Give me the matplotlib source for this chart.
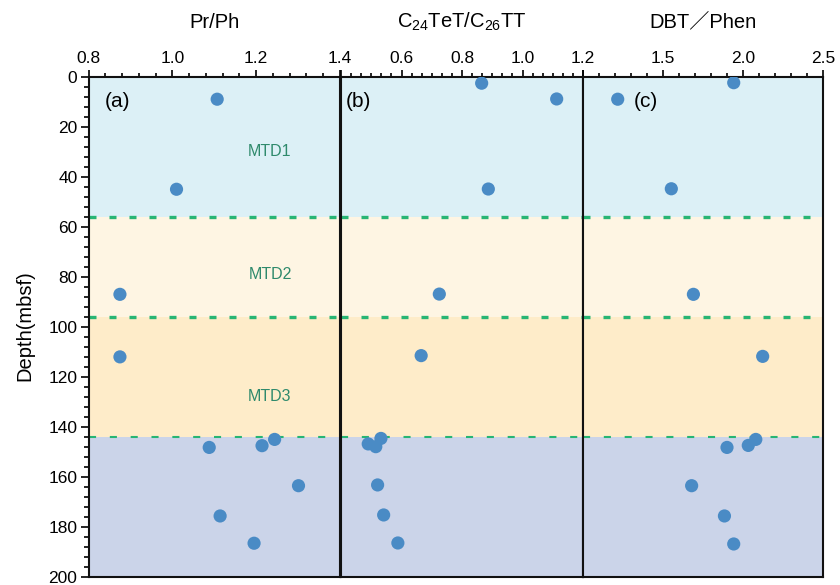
import matplotlib
matplotlib.use("Agg")
import matplotlib.pyplot as plt
from matplotlib.ticker import MultipleLocator

plt.rcParams['font.family'] = ['Liberation Sans', 'DejaVu Sans', 'Noto Sans CJK SC']
plt.rcParams['mathtext.default'] = 'regular'

# ---------------- data ----------------
depth_a = [9, 45, 87, 112, 145, 147.5, 148.2, 163.5, 175.6, 186.5]
pr_ph = [1.107, 1.010, 0.875, 0.875, 1.244, 1.214, 1.088, 1.301, 1.114, 1.195]

depth_b = [2.6, 8.9, 44.9, 86.9, 111.5, 144.6, 146.8, 147.9, 163.2, 175.2, 186.4]
tet_tt = [0.865, 1.113, 0.887, 0.725, 0.665, 0.532, 0.490, 0.515, 0.521, 0.541, 0.588]

depth_c = [2.4, 9.0, 44.8, 87.0, 111.8, 145.0, 147.4, 148.2, 163.5, 175.6, 186.8]
dbt_phen = [1.942, 1.217, 1.552, 1.690, 2.123, 2.080, 2.033, 1.900, 1.679, 1.884, 1.942]

boundaries = [56, 96, 144]
zone_names = ["MTD1", "MTD2", "MTD3"]
zone_label_depths = [30, 79, 128]

titles = ["Pr/Ph", "C$_{24}$TeT/C$_{26}$TT", "DBT／Phen"]
xlims = [(0.8, 1.4), (0.4, 1.2), (1.0, 2.5)]
xticks = [[0.8, 1.0, 1.2, 1.4], [0.4, 0.6, 0.8, 1.0, 1.2], [1.0, 1.5, 2.0, 2.5]]
xticklabels = [["0.8", "1.0", "1.2", "1.4"], ["", "0.6", "0.8", "1.0", "1.2"],
               ["", "1.5", "2.0", "2.5"]]
xminor = [0.04, 0.2 / 6, 0.1]
panel_tags = ["(a)", "(b)", "(c)"]
panel_tag_x = [0.066, 0.02, 0.21]

# ---------------- style ----------------
W, H = 840, 585
fig = plt.figure(figsize=(W / 100, H / 100), dpi=100)

bottom = 1 - 577 / H
height = (577 - 76.7) / H
lefts_px = [88.5, 341, 583]
widths_px = [251.5, 242, 240]

band_colors = ['#dcf0f6', '#fef5e3', '#feecc9', '#cbd4e9']
band_edges = [0] + boundaries + [200]
dash_color = '#27b574'
pt_color = '#4a8bc5'
mtd_color = '#2f8a6c'

series = [(pr_ph, depth_a), (tet_tt, depth_b), (dbt_phen, depth_c)]

axes = []
for i in range(3):
    ax = fig.add_axes([lefts_px[i] / W, bottom, widths_px[i] / W, height])
    axes.append(ax)
    ax.set_xlim(*xlims[i])
    ax.set_ylim(200, 0)
    for k in range(4):
        ax.axhspan(band_edges[k], band_edges[k + 1], color=band_colors[k], lw=0, zorder=0)
    # dashed zone boundaries
    ax.axhline(boundaries[0], color=dash_color, lw=2.4, ls=(0, (2.1, 3.9)), zorder=1)
    ax.axhline(boundaries[1], color=dash_color, lw=2.4, ls=(0, (2.1, 3.9)), zorder=1)
    ax.axhline(boundaries[2], color=dash_color, lw=1.5, ls=(0, (3.4, 6.6)), zorder=1)

    x, d = series[i]
    ax.scatter(x, d, s=90, color=pt_color, edgecolors='none', zorder=3)

    ax.xaxis.tick_top()
    ax.set_xticks(xticks[i])
    ax.set_xticklabels(xticklabels[i])
    ax.xaxis.set_minor_locator(MultipleLocator(xminor[i]))
    ax.tick_params(axis='x', which='both', direction='out', top=True, bottom=False,
                   labeltop=True, labelbottom=False, labelsize=12.5, pad=3, width=1.2)
    ax.tick_params(axis='x', which='major', length=5)
    ax.tick_params(axis='x', which='minor', length=3)

    for sp in ax.spines.values():
        sp.set_linewidth(1.5)
        sp.set_color('#111111')

    ax.text(panel_tag_x[i], 10, panel_tags[i], transform=ax.get_yaxis_transform(),
            fontsize=15, ha='left', va='center', zorder=4)

    fig.text((lefts_px[i] + widths_px[i] / 2) / W, 1 - 22 / H, titles[i],
             fontsize=14.5, ha='center', va='center')

    if i == 0:
        ax.set_yticks(range(0, 201, 20))
        ax.yaxis.set_minor_locator(MultipleLocator(4))
        ax.tick_params(axis='y', which='both', direction='out', left=True,
                       labelsize=12.5, pad=2, width=1.2)
        ax.tick_params(axis='y', which='major', length=6)
        ax.tick_params(axis='y', which='minor', length=3.5)
    else:
        ax.tick_params(axis='y', which='both', left=False, labelleft=False)

ax0 = axes[0]
for name, dd in zip(zone_names, zone_label_depths):
    ax0.text(1.233, dd, name, color=mtd_color, fontsize=11.5, ha='center', va='center', zorder=4)

fig.text(25 / W, 1 - 326 / H, "Depth(mbsf)", rotation=90, fontsize=14.5,
         ha='center', va='center')

fig.savefig("out.png", dpi=100)
